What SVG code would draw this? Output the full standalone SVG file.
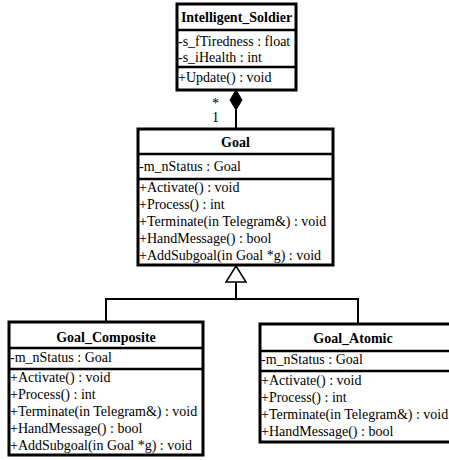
<svg xmlns="http://www.w3.org/2000/svg" width="449" height="460" viewBox="0 0 449 460">
<style>
text{font-family:"Liberation Serif","Times New Roman",serif;font-size:14px;fill:#000}
.t{font-weight:bold;text-anchor:middle}
.box{fill:#fff;stroke:#000;stroke-width:3}
.sep{stroke:#000;stroke-width:2.5}
.ln{fill:none;stroke:#000;stroke-width:2}
</style>
<rect width="449" height="460" fill="#fff"/>
<g id="connectors">
<line class="ln" x1="236" y1="110" x2="236" y2="129"/>
<polygon points="236,90 242,100 236,110 230,100" fill="#000" stroke="#000" stroke-width="1"/>
<text x="212" y="108">*</text>
<text x="212" y="122">1</text>
<polyline class="ln" points="236,282 236,299"/>
<polyline class="ln" points="106,322 106,299 358,299 358,324"/>
<polygon points="236,266 246,282 226,282" fill="#fff" stroke="#000" stroke-width="1.5"/>
</g>
<g id="Intelligent_Soldier">
<rect class="box" x="177" y="4" width="119" height="86"/>
<line class="sep" x1="177" y1="30" x2="296" y2="30"/>
<line class="sep" x1="177" y1="67" x2="296" y2="67"/>
<text class="t" x="236.5" y="22">Intelligent_Soldier</text>
<text x="178" y="46">-s_fTiredness : float</text>
<text x="178" y="62">-s_iHealth : int</text>
<text x="178" y="82">+Update() : void</text>
</g>
<g id="Goal">
<rect class="box" x="138" y="129" width="195" height="136"/>
<line class="sep" x1="138" y1="154" x2="333" y2="154"/>
<line class="sep" x1="138" y1="179" x2="333" y2="179"/>
<text class="t" x="235.5" y="147">Goal</text>
<text x="139" y="171">-m_nStatus : Goal</text>
<text x="139" y="192">+Activate() : void</text>
<text x="139" y="209">+Process() : int</text>
<text x="139" y="226">+Terminate(in Telegram&amp;) : void</text>
<text x="139" y="243">+HandMessage() : bool</text>
<text x="139" y="260">+AddSubgoal(in Goal *g) : void</text>
</g>
<g id="Goal_Composite">
<rect class="box" x="9" y="322" width="194" height="133"/>
<line class="sep" x1="9" y1="348" x2="203" y2="348"/>
<line class="sep" x1="9" y1="369" x2="203" y2="369"/>
<text class="t" x="106" y="342">Goal_Composite</text>
<text x="10" y="362">-m_nStatus : Goal</text>
<text x="10" y="382">+Activate() : void</text>
<text x="10" y="399">+Process() : int</text>
<text x="10" y="416">+Terminate(in Telegram&amp;) : void</text>
<text x="10" y="433">+HandMessage() : bool</text>
<text x="10" y="450">+AddSubgoal(in Goal *g) : void</text>
</g>
<g id="Goal_Atomic">
<rect class="box" x="260" y="324" width="196" height="118"/>
<line class="sep" x1="260" y1="351" x2="456" y2="351"/>
<line class="sep" x1="260" y1="371" x2="456" y2="371"/>
<text class="t" x="353" y="343">Goal_Atomic</text>
<text x="261" y="364">-m_nStatus : Goal</text>
<text x="261" y="385">+Activate() : void</text>
<text x="261" y="402">+Process() : int</text>
<text x="261" y="419">+Terminate(in Telegram&amp;) : void</text>
<text x="261" y="436">+HandMessage() : bool</text>
</g>
</svg>
